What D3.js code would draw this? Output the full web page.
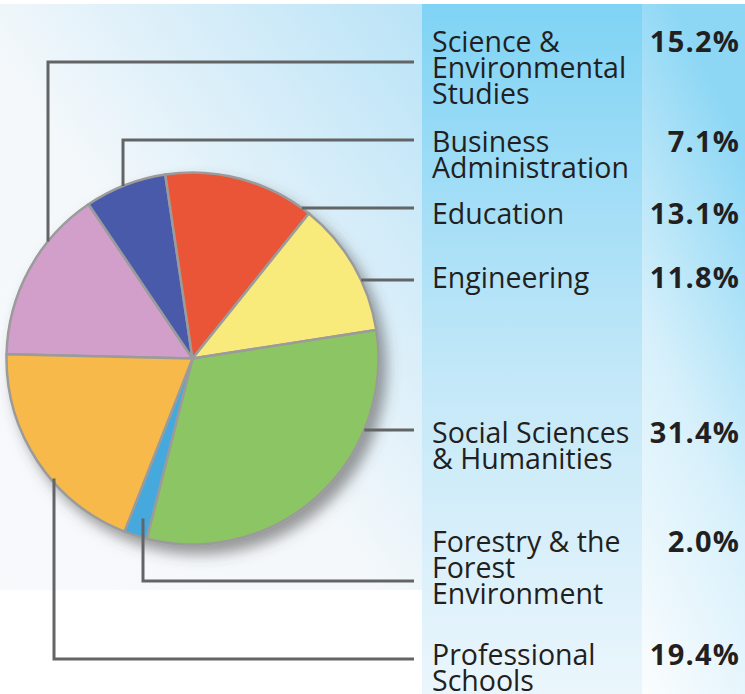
<!DOCTYPE html>
<html>
<head>
<meta charset="utf-8">
<script src="https://cdn.jsdelivr.net/npm/d3@7"></script>
<style>
  body { margin:0; background:#fff; }
  svg { display:block; }
  text { font-family:"Open Sans", "Noto Sans", sans-serif; fill:#231f20; }
</style>
</head>
<body>
<div id="canvas"></div>
<script>
// data, in label order (top to bottom)
var categories = [
  ['Science &', 'Environmental', 'Studies'],
  ['Business', 'Administration'],
  ['Education'],
  ['Engineering'],
  ['Social Sciences', '& Humanities'],
  ['Forestry & the', 'Forest', 'Environment'],
  ['Professional', 'Schools']
];
var values = [15.2, 7.1, 13.1, 11.8, 31.4, 2.0, 19.4];
var colors = ['#d29fcb', '#4a5aaa', '#ea5539', '#f9ea7c', '#8cc563', '#45a9de', '#f8b94b'];

// label layout: first baseline, leader y, elbow x (null = straight line to arc), end depth
var labelY  = [52, 152, 224, 288, 443, 552, 665];
var leaderY = [62, 140, 208, 280, 430, 581, 659];
var elbowX  = [48, 123, null, null, null, 143, 54];
var depth   = [1, 1, 1, 1, 1, 0.9, 0.985];

var W = 745, H = 694;
var cx = 192.5, cy = 358.5, r = 186;
var colX = 422, pctX = 642;

var svg = d3.select('#canvas')
  .append('svg')
  .attr('width', W)
  .attr('height', H);

var defs = svg.append('defs');

var g1 = defs.append('linearGradient').attr('id', 'bgLeft')
  .attr('x1', 0).attr('y1', 1).attr('x2', 1).attr('y2', 0);
g1.append('stop').attr('offset', '0%').attr('stop-color', '#f8f9fb');
g1.append('stop').attr('offset', '45%').attr('stop-color', '#f4f8fb');
g1.append('stop').attr('offset', '100%').attr('stop-color', '#b9e3f7');

var g2 = defs.append('linearGradient').attr('id', 'bgCol')
  .attr('x1', 0).attr('y1', 0).attr('x2', 0).attr('y2', 1);
g2.append('stop').attr('offset', '0%').attr('stop-color', '#7fd3f5');
g2.append('stop').attr('offset', '55%').attr('stop-color', '#c4e8f8');
g2.append('stop').attr('offset', '100%').attr('stop-color', '#ebf6fc');

var g3 = defs.append('linearGradient').attr('id', 'bgPct')
  .attr('x1', 0.3).attr('y1', 0).attr('x2', 0).attr('y2', 1);
g3.append('stop').attr('offset', '0%').attr('stop-color', '#8dd7f5');
g3.append('stop').attr('offset', '50%').attr('stop-color', '#d6f0fb');
g3.append('stop').attr('offset', '100%').attr('stop-color', '#fbfdfe');

var shadow = defs.append('filter').attr('id', 'shadow')
  .attr('x', '-20%').attr('y', '-20%').attr('width', '150%').attr('height', '150%');
shadow.append('feDropShadow')
  .attr('dx', 7).attr('dy', 9).attr('stdDeviation', 7)
  .attr('flood-color', '#4a4a4a').attr('flood-opacity', 0.55);

// backgrounds
svg.append('rect').attr('x', 0).attr('y', 4).attr('width', colX).attr('height', 586)
  .attr('fill', 'url(#bgLeft)');
svg.append('rect').attr('x', colX).attr('y', 4).attr('width', pctX - colX).attr('height', H - 4)
  .attr('fill', 'url(#bgCol)');
svg.append('rect').attr('x', pctX).attr('y', 4).attr('width', W - pctX).attr('height', H - 4)
  .attr('fill', 'url(#bgPct)');

// pie
var pie = d3.pie().sort(null)
  .startAngle(-88.7 * Math.PI / 180)
  .endAngle(-88.7 * Math.PI / 180 + 2 * Math.PI);
var arc = d3.arc().innerRadius(0).outerRadius(r);
var arcs = pie(values);

var plot = svg.append('g')
  .attr('transform', 'translate(' + cx + ',' + cy + ')');

plot.append('g')
  .attr('filter', 'url(#shadow)')
  .selectAll('path')
  .data(arcs)
  .enter()
  .append('path')
  .attr('d', arc)
  .attr('fill', function(d, i) { return colors[i]; })
  .attr('stroke', '#9b9b9b')
  .attr('stroke-width', 2.5)
  .attr('stroke-linejoin', 'round');

// leader lines
var lineEnd = 414;
svg.append('g').selectAll('path')
  .data(arcs)
  .enter()
  .append('path')
  .attr('fill', 'none')
  .attr('stroke', '#636466')
  .attr('stroke-width', 3)
  .attr('d', function(d, i) {
    var y = leaderY[i], rr = r * depth[i];
    if (elbowX[i] === null) {
      var x = cx + Math.sqrt(rr * rr - (y - cy) * (y - cy));
      return 'M' + lineEnd + ',' + y + 'H' + x;
    }
    var ex = elbowX[i];
    var dy = Math.sqrt(rr * rr - (ex - cx) * (ex - cx));
    var ey = y < cy ? cy - dy : cy + dy;
    return 'M' + lineEnd + ',' + y + 'H' + ex + 'V' + ey;
  });

// labels
var labels = svg.append('g').selectAll('g')
  .data(categories)
  .enter()
  .append('g');

labels.append('text')
  .attr('x', 432)
  .attr('y', function(d, i) { return labelY[i]; })
  .style('font-size', '28.5px')
  .selectAll('tspan')
  .data(function(d) { return d; })
  .enter()
  .append('tspan')
  .attr('x', 432)
  .attr('dy', function(d, j) { return j === 0 ? 0 : 26; })
  .text(function(d) { return d; });

labels.append('text')
  .attr('x', 740)
  .attr('y', function(d, i) { return labelY[i]; })
  .attr('text-anchor', 'end')
  .style('font-size', '29px')
  .style('font-weight', 'bold')
  .style('letter-spacing', '1.2px')
  .text(function(d, i) { return values[i].toFixed(1) + '%'; });
</script>
</body>
</html>
